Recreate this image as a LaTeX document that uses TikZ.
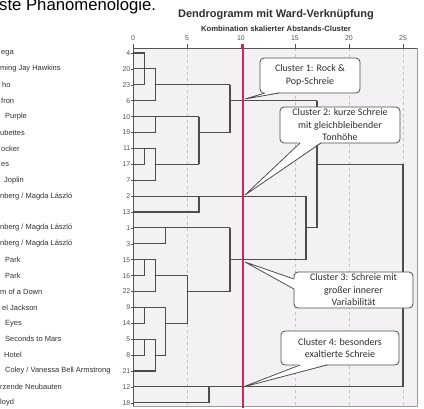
\documentclass[tikz,border=0pt]{standalone}
\usepackage{fontspec}
\setmainfont{Liberation Sans}
\newfontfamily\calfont{Carlito}
\definecolor{dendro}{HTML}{4D4D4D}
\definecolor{txtgray}{HTML}{303030}
\definecolor{axgray}{HTML}{555555}
\definecolor{plotbg}{HTML}{F3F1F4}
\definecolor{gridgray}{HTML}{C4C4C4}
\definecolor{cutred}{RGB}{200,40,90}
\begin{document}
\begin{tikzpicture}[x=1pt,y=-1pt,
  declare function={ry(\i)=53+15.9*\i;},
  dl/.style={draw=dendro,line width=1.1pt},
  gridln/.style={draw=gridgray,line width=0.6pt,dash pattern=on 3pt off 3pt},
  namelbl/.style={anchor=west,inner sep=0pt,text=txtgray,font=\fontsize{7.5}{9}\selectfont},
  numlbl/.style={anchor=east,inner sep=0pt,text=axgray,font=\fontsize{7}{8}\selectfont},
  axlbl/.style={anchor=center,inner sep=0pt,text=axgray,font=\fontsize{7}{8}\selectfont},
  calloutbox/.style={draw=dendro,fill=white,line width=0.8pt,rounded corners=4pt,inner sep=0pt,
    align=center,font=\calfont\fontsize{10}{12.5}\selectfont,text=txtgray},
  pointerfill/.style={fill=white,draw=none},
  pointerline/.style={draw=dendro,line width=0.8pt}]
\useasboundingbox (0,0) rectangle (424,408);
\clip (0,0) rectangle (424,408);

% heading cut at the top
\node[anchor=base west,inner sep=0pt,font=\fontsize{16.7}{18}\selectfont,text=black] (head) at (-1,10) {ste Phänomenologie.};
\node[inner sep=0pt,font=\bfseries\fontsize{11}{13}\selectfont,text=txtgray] (title) at (276,15) {Dendrogramm mit Ward-Verknüpfung};
\node[inner sep=0pt,font=\bfseries\fontsize{7.7}{9}\selectfont,text=txtgray] (subtitle) at (276,28.5) {Kombination skalierter Abstands-Cluster};

% plot area
\fill[plotbg] (133,48) rectangle (417,407);
\draw[draw=gray!80,line width=0.8pt] (417,48) -- (417,406) -- (133,406);
\foreach \v in {5,15,20,25} {\draw[gridln] ({133+10.8*\v},48) -- ({133+10.8*\v},406);}
\draw[draw=axgray,line width=1pt] (133,406) -- (133,48) -- (417,48);
\foreach \v in {0,5,10,15,20,25} {
  \node[axlbl] (ax\v) at ({133+10.8*\v},38) {\v};
  \draw[draw=axgray,line width=0.6pt] ({133+10.8*\v},43.5) -- ({133+10.8*\v},48);
}

% row labels
\foreach \n [count=\i from 0] in {4,20,23,6,10,19,11,17,7,2,13,1,3,15,16,22,9,14,5,8,21,12,18} {
  \node[numlbl] (num\i) at (130.5,{ry(\i)}) {\n};
  \draw[draw=axgray,line width=0.6pt] (130.5,{ry(\i)}) -- (133,{ry(\i)});
}
\foreach \t/\o [count=\i from 0] in {{ega}/1,{ming Jay Hawkins}/0,{ho}/2,{fron}/1,{Purple}/5,{ubettes}/0,{ocker}/1,{es}/1,{Joplin}/4,{nberg / Magda László}/0,{}/0,{nberg / Magda László}/0,{nberg / Magda László}/0,{Park}/5,{Park}/5,{m of a Down}/0,{el Jackson}/2,{Eyes}/5,{Seconds to Mars}/5,{Hotel}/4,{Coley / Vanessa Bell Armstrong}/5,{rzende Neubauten}/0,{loyd}/0} {
  \node[namelbl] (name\i) at (\o,{ry(\i)}) {\t};
}

% dendrogram
\def\Xa{144.3}\def\Xb{155.7}\def\Xc{165.7}\def\Xe{187.7}\def\Xd{199}\def\Xf{209}
\def\Xg{230}\def\Xh{306}\def\Xi{317}\def\Xj{403}
% cluster 4,20,23,6
\draw[dl] (133,{ry(0)}) -| (\Xa,{ry(2)}) -- (133,{ry(2)});
\draw[dl] (133,{ry(1)}) -- (\Xb,{ry(1)}) -- (\Xb,{ry(3)}) -- (133,{ry(3)});
\draw[dl] (\Xb,{ry(2)}) -- (\Xg,{ry(2)});
% 10,19
\draw[dl] (133,{ry(4)}) -- (\Xd,{ry(4)});
\draw[dl] (\Xb,{ry(4)}) -- (\Xb,{ry(5)}) -- (133,{ry(5)});
% 11,17,7
\draw[dl] (133,{ry(6)}) -- (\Xb,{ry(6)}) -- (\Xb,{ry(8)}) -- (133,{ry(8)});
\draw[dl] (\Xa,{ry(6)}) -- (\Xa,{ry(7)}) -- (133,{ry(7)});
\draw[dl] (\Xb,{ry(7)}) -- (\Xd,{ry(7)});
\draw[dl] (\Xd,{ry(4)}) -- (\Xd,{ry(7)});
\draw[dl] (\Xd,{ry(5)}) -- (\Xg,{ry(5)});
\draw[dl] (\Xg,{ry(2)}) -- (\Xg,{ry(5)});
\draw[dl] (\Xg,{ry(3)}) -- (\Xi,{ry(3)});
% 2,13
\draw[dl] (133,{ry(9)}) -- (\Xh,{ry(9)});
\draw[dl] (133,{ry(10)}) -- (\Xd,{ry(10)}) -- (\Xd,{ry(9)});
% 1,3
\draw[dl] (133,{ry(11)}) -- (\Xg,{ry(11)});
\draw[dl] (133,{ry(12)}) -- (\Xc,{ry(12)}) -- (\Xc,{ry(11)});
% 15,16,22
\draw[dl] (133,{ry(13)}) -- (\Xb,{ry(13)});
\draw[dl] (133,{ry(14)}) -- (\Xa,{ry(14)}) -- (\Xa,{ry(13)});
\draw[dl] (133,{ry(15)}) -- (\Xb,{ry(15)}) -- (\Xb,{ry(13)});
\draw[dl] (\Xb,{ry(14)}) -- (\Xe,{ry(14)});
% 9,14
\draw[dl] (133,{ry(16)}) -- (\Xc,{ry(16)});
\draw[dl] (133,{ry(17)}) -- (\Xa,{ry(17)}) -- (\Xa,{ry(16)});
% 5,8,21
\draw[dl] (133,{ry(18)}) -- (\Xb,{ry(18)});
\draw[dl] (133,{ry(19)}) -- (\Xa,{ry(19)}) -- (\Xa,{ry(18)});
\draw[dl] (133,{ry(20)}) -- (\Xb,{ry(20)}) -- (\Xb,{ry(18)});
\draw[dl] (\Xb,{ry(19)}) -- (\Xc,{ry(19)});
\draw[dl] (\Xc,{ry(16)}) -- (\Xc,{ry(19)});
\draw[dl] (\Xc,{ry(17)}) -- (\Xe,{ry(17)});
\draw[dl] (\Xe,{ry(14)}) -- (\Xe,{ry(17)});
\draw[dl] (\Xe,{ry(15)}) -- (\Xg,{ry(15)});
\draw[dl] (\Xg,{ry(11)}) -- (\Xg,{ry(15)});
\draw[dl] (\Xg,{ry(13)}) -- (\Xh,{ry(13)});
\draw[dl] (\Xh,{ry(9)}) -- (\Xh,{ry(13)});
\draw[dl] (\Xh,{ry(11)}) -- (\Xi,{ry(11)});
\draw[dl] (\Xi,{ry(3)}) -- (\Xi,{ry(11)});
\draw[dl] (\Xi,{ry(7)}) -- (\Xj,{ry(7)});
% 12,18
\draw[dl] (133,{ry(21)}) -- (\Xj,{ry(21)});
\draw[dl] (133,{ry(22)}) -- (\Xf,{ry(22)}) -- (\Xf,{ry(21)});
\draw[dl] (\Xj,{ry(7)}) -- (\Xj,{ry(21)});

% cut line
\draw[draw=cutred,line width=1.5pt] (243,43.5) -- (243,408);

% callouts
\node[calloutbox,minimum width=100pt,minimum height=35pt] (c1) at (310,75.5) {Cluster 1: Rock \&\\Pop-Schreie};
\fill[pointerfill] (265,92) -- (245,99) -- (279,92) -- cycle;
\draw[pointerline] (265,93) -- (245,99) -- (279,93);

\node[calloutbox,minimum width=120pt,minimum height=36pt] (c2) at (340,125) {Cluster 2: kurze Schreie\\mit gleichbleibender\\Tonhöhe};
\fill[pointerfill] (300,142) -- (245,195) -- (321,142) -- cycle;
\draw[pointerline] (300,143) -- (245,195) -- (321,143);

\node[calloutbox,minimum width=119pt,minimum height=36pt] (c3) at (353.5,290) {Cluster 3: Schreie mit\\großer innerer\\Variabilität};
\fill[pointerfill] (295,279) -- (245,262) -- (295,289) -- cycle;
\draw[pointerline] (294,279) -- (245,262) -- (294,289);

\node[calloutbox,minimum width=118pt,minimum height=34pt] (c4) at (340,348) {Cluster 4: besonders\\exaltierte Schreie};
\fill[pointerfill] (300,364) -- (243,387) -- (327,364) -- cycle;
\draw[pointerline] (300,365) -- (243,387) -- (327,365);
\end{tikzpicture}
\end{document}
